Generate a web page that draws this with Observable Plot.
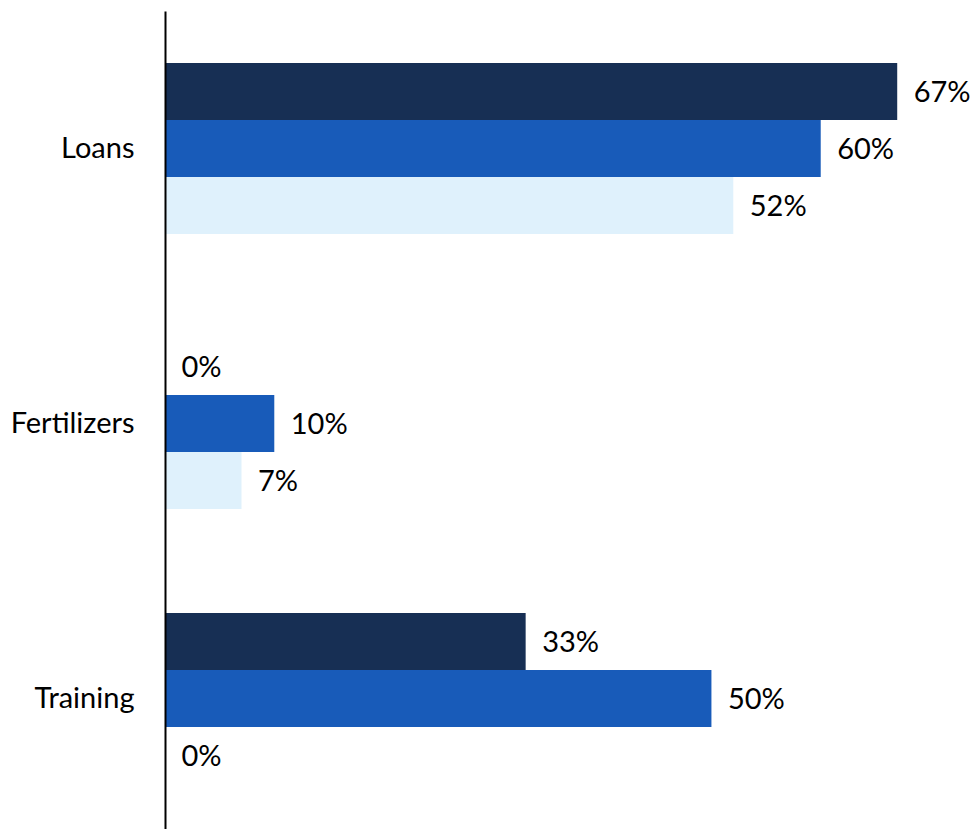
<!DOCTYPE html>
<html>
<head>
<meta charset="utf-8">
<script src="https://cdn.jsdelivr.net/npm/d3@7"></script>
<script src="https://cdn.jsdelivr.net/npm/@observablehq/plot@0.6"></script>
<style>
  html, body { margin: 0; padding: 0; background: #fff; }
  #chart svg { display: block; }
</style>
</head>
<body>
<div id="chart"></div>
<script>
const categories = ["Loans", "Fertilizers", "Training"];
const seriesNames = ["Series 1", "Series 2", "Series 3"];
const seriesColors = ["#172f54", "#185bb9", "#dff1fc"];
const loansValues = [67, 60, 52];
const fertilizersValues = [0, 10, 7];
const trainingValues = [33, 50, 0];

const valuesByCategory = [loansValues, fertilizersValues, trainingValues];
const data = [];
categories.forEach((c, i) => {
  seriesNames.forEach((s, j) => {
    data.push({category: c, series: s, value: valuesByCategory[i][j]});
  });
});

const fontFamily = "Lato, 'Open Sans', sans-serif";

const chart = Plot.plot({
  width: 970,
  height: 829,
  marginTop: 63,
  marginBottom: 45,
  marginLeft: 165,
  marginRight: 40,
  style: {fontFamily, fontSize: "29px", color: "#000", background: "#fff"},
  x: {domain: [0, 70], axis: null},
  y: {domain: seriesNames, padding: 0, axis: null},
  fy: {domain: categories, paddingInner: 0.3785, paddingOuter: 0, label: null},
  color: {domain: seriesNames, range: seriesColors},
  marks: [
    Plot.axisFy({anchor: "left", tickSize: 0, tickPadding: 31, fontSize: 29, label: null}),
    Plot.barX(data, {fy: "category", y: "series", x: "value", fill: "series"}),
    Plot.text(data, {fy: "category", y: "series", x: "value", text: d => d.value + "%",
      textAnchor: "start", dx: 16, dy: 1, fill: "#000", fontSize: 29}),
    Plot.frame({anchor: "left", facet: "super", stroke: "#000", strokeWidth: 2, insetTop: -51, insetBottom: -45})
  ]
});
document.getElementById("chart").appendChild(chart);
</script>
</body>
</html>
